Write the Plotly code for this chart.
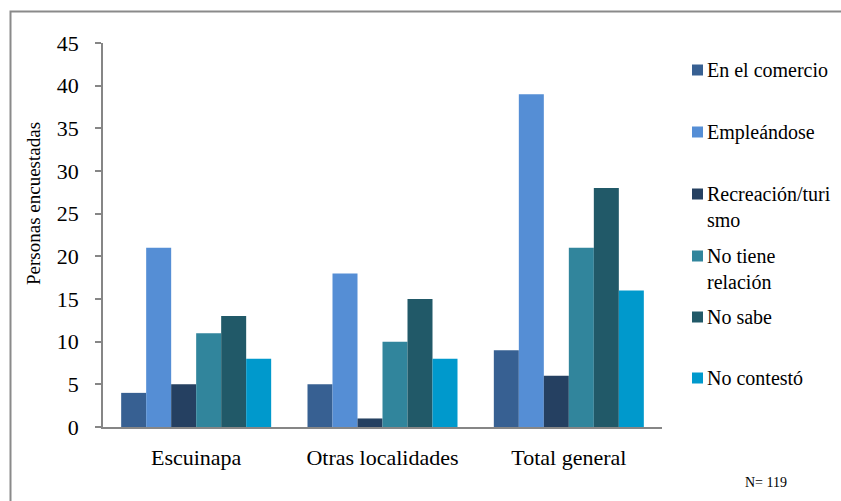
import plotly.graph_objects as go

categories = ["Escuinapa", "Otras localidades", "Total general"]
series_names = ["En el comercio", "Empleándose", "Recreación/turismo",
                "No tiene relación", "No sabe", "No contestó"]
legend_labels = ["En el comercio", "Empleándose", "Recreación/turi<br>smo",
                 "No tiene<br>relación", "No sabe", "No contestó"]
en_el_comercio = [4, 5, 9]
empleandose = [21, 18, 39]
recreacion_turismo = [5, 1, 6]
no_tiene_relacion = [11, 10, 21]
no_sabe = [13, 15, 28]
no_contesto = [8, 8, 16]
series_values = [en_el_comercio, empleandose, recreacion_turismo,
                 no_tiene_relacion, no_sabe, no_contesto]
y_ticks = [0, 5, 10, 15, 20, 25, 30, 35, 40, 45]
y_title = "Personas encuestadas"
note_text = "N= 119"

colors = ["#376092", "#558ED5", "#254061", "#31859C", "#215968", "#0099CC"]
FONT = "Liberation Serif, Times New Roman, serif"

W, H = 841, 501
L, R, T, B = 103, 179, 43, 74
PW, PH = W - L - R, H - T - B


def px_x(px):
    return (px - L) / PW


def px_y(py):
    return (H - B - py) / PH


fig = go.Figure()
for name, vals, col in zip(series_names, series_values, colors):
    fig.add_trace(go.Bar(x=categories, y=vals, name=name, marker_color=col,
                         marker_line_width=0, showlegend=False))

shapes = []
annotations = []
# legend drawn beside the plot
legend_centers = [70, 132, 194, 256, 317, 378]
for lab, col, cy in zip(legend_labels, colors, legend_centers):
    shapes.append(dict(type="rect", xref="paper", yref="paper",
                       x0=px_x(692), x1=px_x(703), y0=px_y(cy + 5.5), y1=px_y(cy - 5.5),
                       fillcolor=col, line_width=0))
    annotations.append(dict(text=lab, xref="paper", yref="paper", x=px_x(705),
                            y=px_y(cy - 13), xanchor="left", yanchor="top",
                            align="left", showarrow=False,
                            font=dict(family=FONT, size=20, color="#000000")))

# y-axis title (sits above the plot centre in the reference)
annotations.append(dict(text=y_title, xref="paper", yref="paper", x=px_x(33),
                        y=px_y(204), xanchor="center", yanchor="middle",
                        textangle=-90, showarrow=False,
                        font=dict(family=FONT, size=19, color="#000000")))

annotations.append(dict(text=note_text, xref="paper", yref="paper", x=px_x(743),
                        y=px_y(482), xanchor="left", yanchor="middle", showarrow=False,
                        font=dict(family=FONT, size=14, color="#000000")))

# outer frame
shapes.append(dict(type="rect", xref="paper", yref="paper",
                   x0=px_x(10.5), x1=px_x(860), y0=px_y(520), y1=px_y(11.5),
                   line=dict(color="#8a8a8a", width=2), fillcolor="rgba(0,0,0,0)",
                   layer="below"))

fig.update_layout(
    width=W, height=H,
    margin=dict(l=L, r=R, t=T, b=B),
    paper_bgcolor="white", plot_bgcolor="white",
    barmode="group", bargap=0.195, bargroupgap=0,
    font=dict(family=FONT, color="#000000"),
    shapes=shapes, annotations=annotations,
    xaxis=dict(showline=True, linecolor="#868686", linewidth=1.5, ticks="",
               tickfont=dict(family=FONT, size=22, color="#000000"),
               ticklabelstandoff=10, showgrid=False, zeroline=False),
    yaxis=dict(range=[0, 45], tickvals=y_ticks, showline=True, linecolor="#868686",
               linewidth=1.5, ticks="outside", ticklen=6, tickcolor="#868686",
               tickwidth=1.5, showgrid=False, zeroline=False,
               tickfont=dict(family=FONT, size=22, color="#000000"),
               ticklabelstandoff=12),
)

fig.write_html("out.html", config={"displayModeBar": False},
               post_script="document.body.style.margin='0';document.body.style.overflow='hidden';")
